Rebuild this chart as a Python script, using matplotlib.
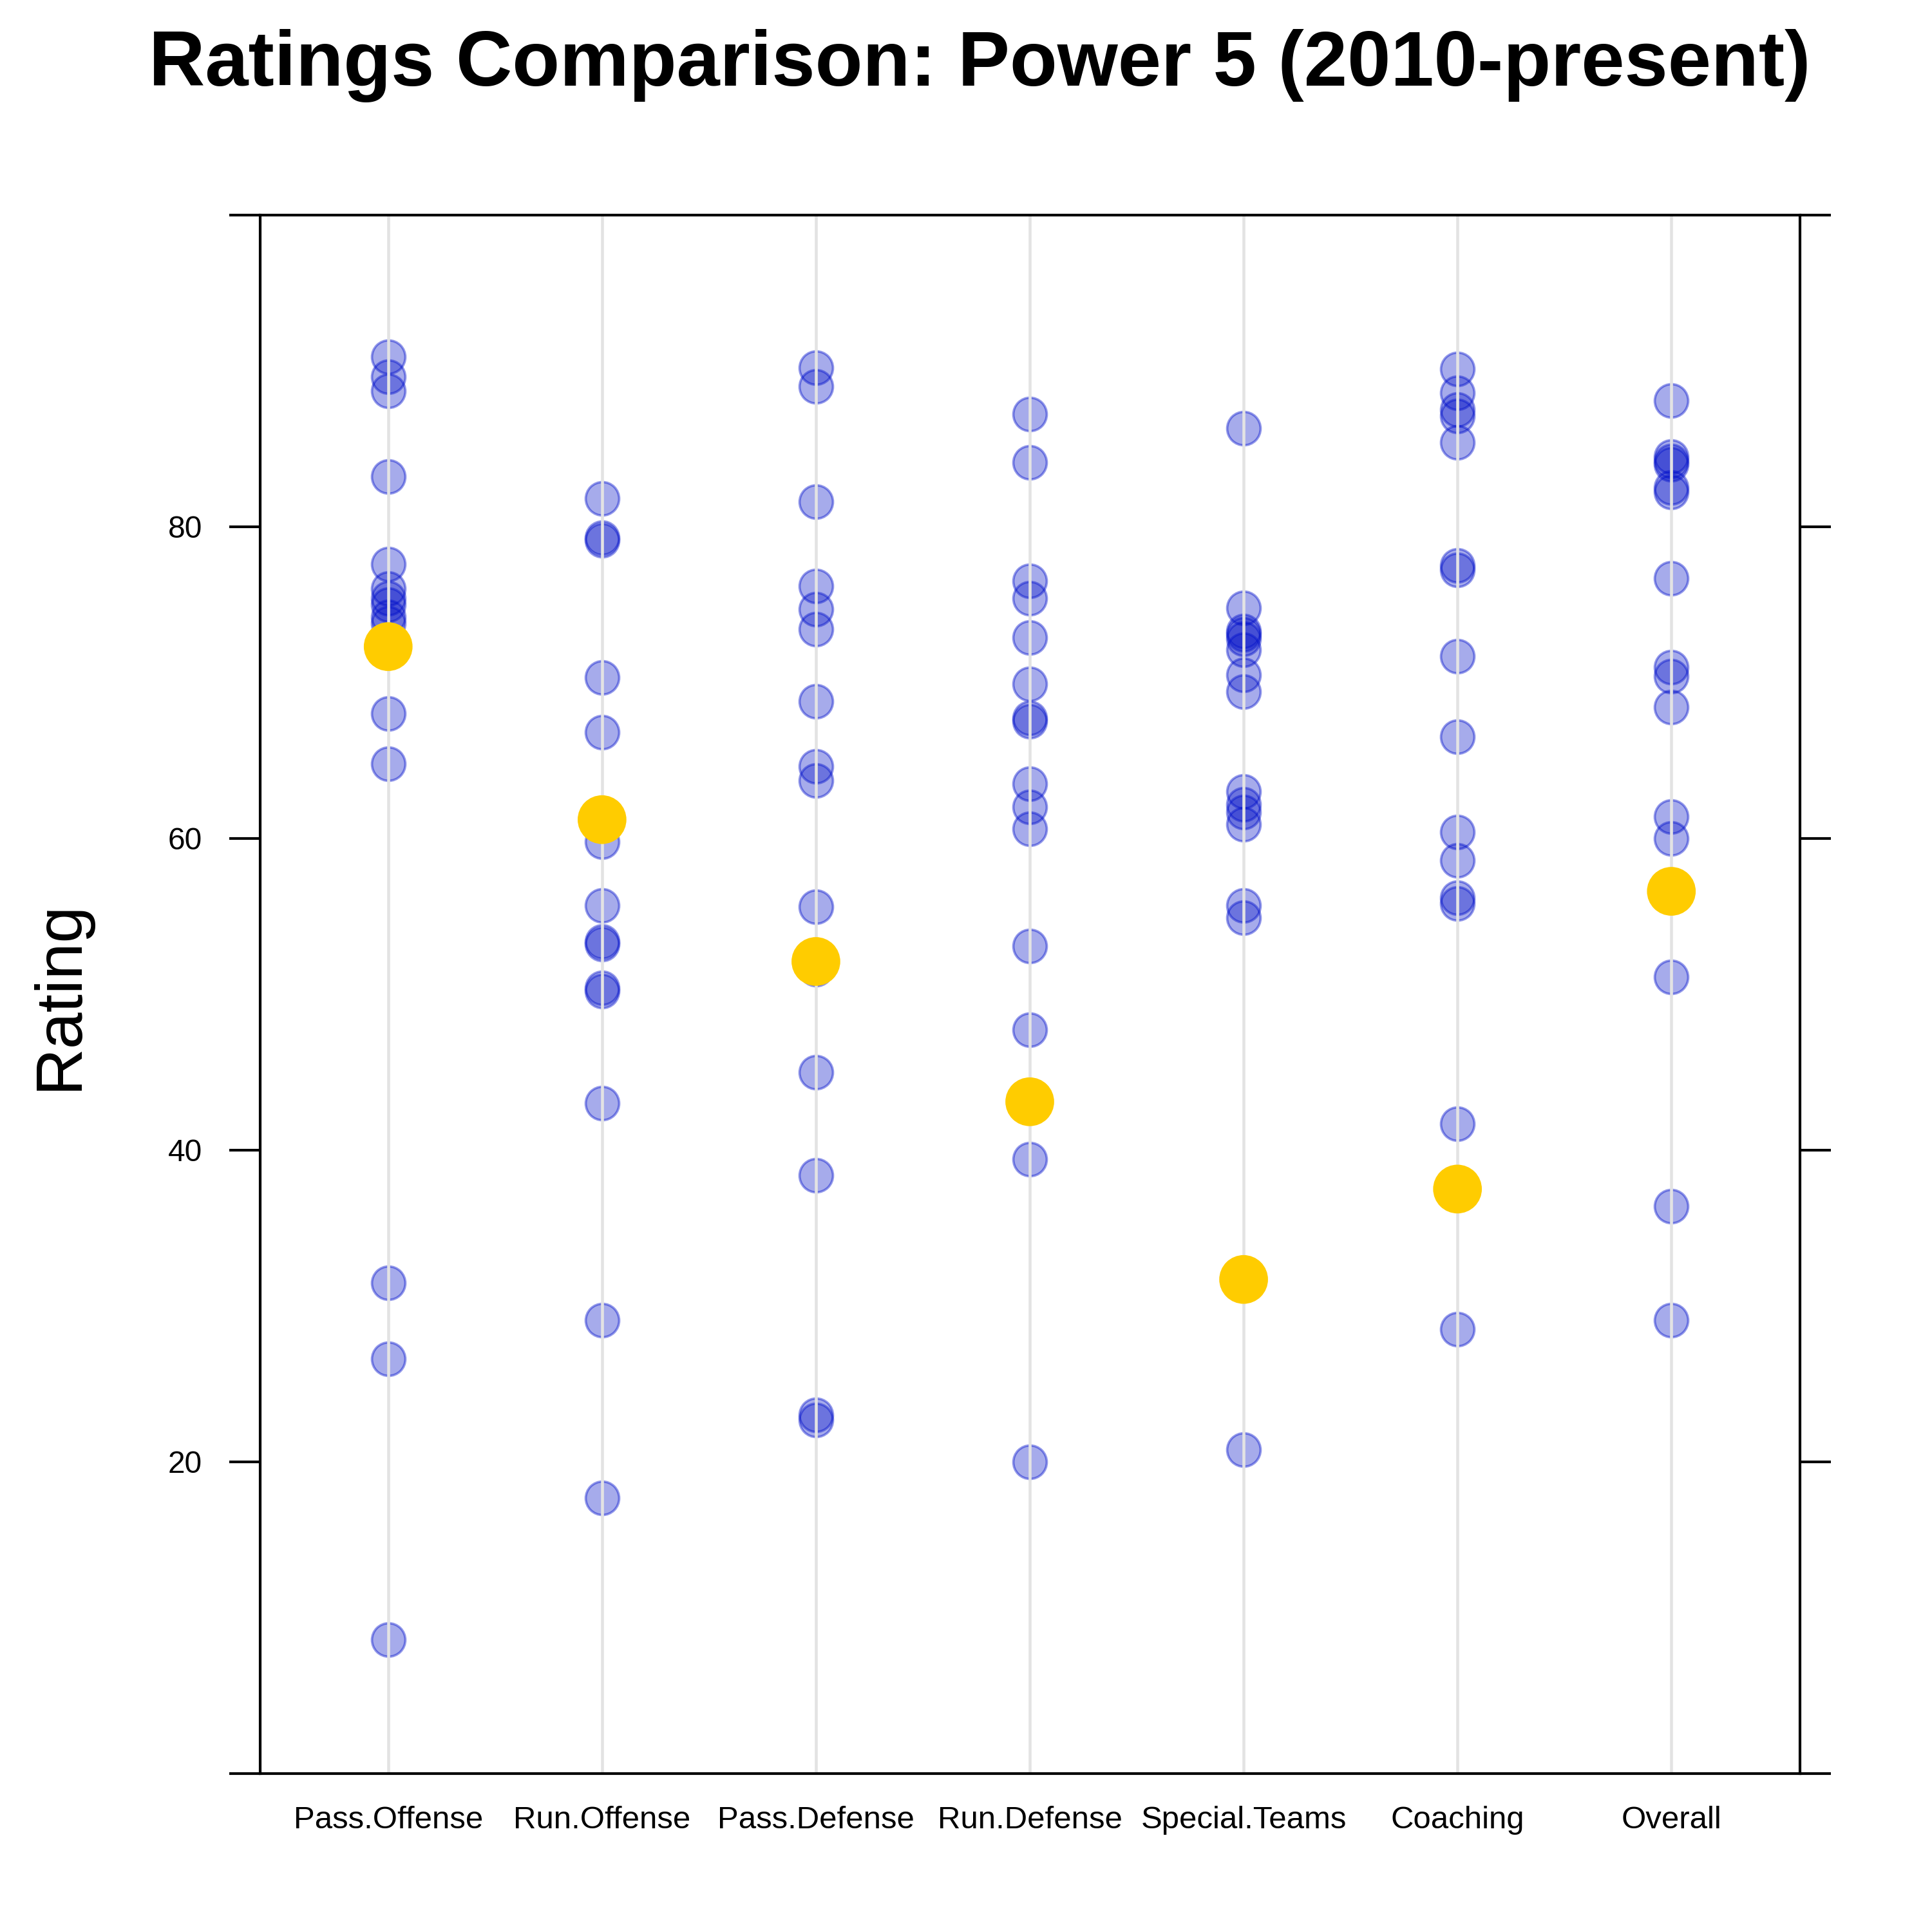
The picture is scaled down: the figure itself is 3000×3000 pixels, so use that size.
import numpy as np
import matplotlib
matplotlib.use('Agg')
import matplotlib.pyplot as plt

plt.rcParams['font.family'] = ['Liberation Sans', 'DejaVu Sans']

categories = ['Pass.Offense', 'Run.Offense', 'Pass.Defense', 'Run.Defense',
              'Special.Teams', 'Coaching', 'Overall']

# all power 5 teams (blue)
pass_off = [90.9, 89.6, 88.7, 83.2, 77.6, 76.0, 75.4, 75.0, 74.2, 73.8, 68.0, 64.8, 31.5, 26.6, 8.6]
run_off = [81.8, 79.3, 79.1, 70.3, 66.8, 61.4, 59.8, 55.7, 53.4, 53.2, 50.4, 50.2, 43.0, 29.1, 17.7]
pass_def = [90.2, 89.0, 81.6, 76.2, 74.7, 73.4, 68.8, 64.6, 63.7, 55.6, 51.6, 45.0, 38.4, 23.0, 22.7]
run_def = [87.2, 84.1, 76.5, 75.4, 72.9, 69.9, 67.7, 67.5, 63.5, 62.0, 60.6, 53.1, 47.7, 39.4, 20.0]
special = [86.3, 74.8, 73.3, 73.1, 72.8, 72.1, 70.5, 69.4, 63.0, 62.2, 61.7, 60.9, 55.7, 54.9, 20.8]
coaching = [90.1, 88.6, 87.5, 87.1, 85.4, 77.5, 77.2, 71.7, 66.5, 60.4, 58.6, 56.2, 55.8, 41.7, 28.5]
overall = [88.1, 84.5, 84.2, 84.0, 82.5, 82.2, 76.7, 71.0, 70.4, 68.4, 61.4, 60.0, 51.1, 36.4, 29.1]

# highlighted team (gold)
highlight = [72.3, 61.2, 52.1, 43.1, 31.7, 37.5, 56.6]

all_series = [pass_off, run_off, pass_def, run_def, special, coaching, overall]

fig = plt.figure(figsize=(10, 10), dpi=300)
ax = fig.add_axes([0.1345, 0.082, 0.797, 0.8068])

xs = np.arange(1, len(categories) + 1)

for i, vals in enumerate(all_series):
    ax.scatter([xs[i]] * len(vals), vals, s=155,
               facecolor=(0.0, 0.055, 0.78, 0.35),
               edgecolor=(0.0, 0.06, 0.8, 0.42), linewidth=0.9, zorder=1)

# grey guide lines sit over the blue points, under the gold ones
for x in xs:
    ax.axvline(x, color='#e3e3e3', lw=1.1, zorder=2)

ax.scatter(xs, highlight, s=330, color='#FFCC00', edgecolor='none', zorder=3)

ax.set_xlim(0.4, 7.6)
ax.set_ylim(0, 100)
ax.set_xticks(xs)
ax.set_xticklabels(categories, fontsize=11.8)
ax.tick_params(axis='x', length=0, pad=12)
ax.set_yticks([0, 20, 40, 60, 80, 100])
ax.set_yticklabels(['', '20', '40', '60', '80', ''], fontsize=11.5)
ax.tick_params(axis='y', direction='out', length=11.5, width=1.0, pad=10,
               left=True, right=True)
for sp in ax.spines.values():
    sp.set_linewidth(1.0)

fig.text(0.031, 0.485, 'Rating', rotation=90, ha='center', va='center', fontsize=24.5)
fig.text(0.507, 0.966, 'Ratings Comparison: Power 5 (2010-present)',
         ha='center', va='center', fontsize=29, fontweight='bold')

plt.savefig('out.png', dpi=300)
